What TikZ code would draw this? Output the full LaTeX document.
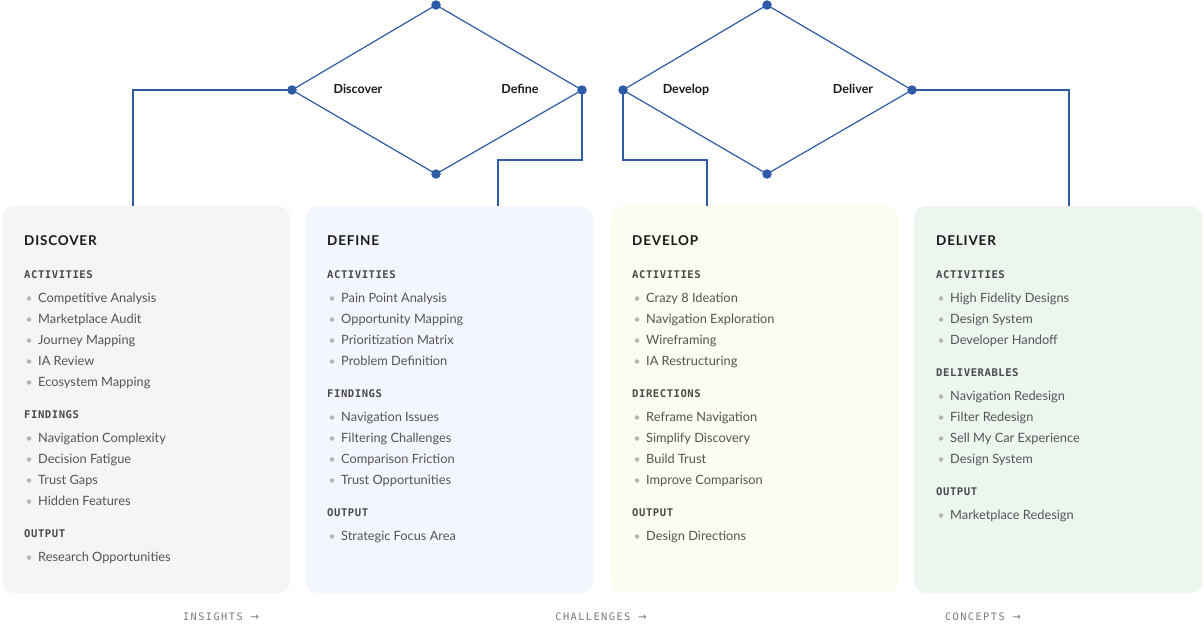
\documentclass[tikz,border=0pt]{standalone}
\usepackage{fontspec}
\setmainfont{Lato}
\newfontfamily\hdrf[LetterSpace=5]{DejaVu Sans Mono}
\newfontfamily\botf[LetterSpace=14]{DejaVu Sans Mono}
\newfontfamily\arrf{DejaVu Sans}
\newfontfamily\titf[LetterSpace=6]{Lato}
\definecolor{linkc}{HTML}{2E5BA6}
\definecolor{cardA}{HTML}{F5F5F5}
\definecolor{cardB}{HTML}{F3F7FD}
\definecolor{cardC}{HTML}{FCFCF1}
\definecolor{cardD}{HTML}{ECF6EE}
\definecolor{itemc}{HTML}{555555}
\definecolor{hdrc}{HTML}{4A4A4A}
\definecolor{titc}{HTML}{1A1A1A}
\definecolor{botc}{HTML}{7A7A7A}
\definecolor{bulc}{HTML}{B5B5B5}
\tikzset{
  card/.style={rounded corners=12pt, draw=none, inner sep=0, anchor=north west, minimum width=288pt, minimum height=387pt},
  link/.style={draw=linkc, line width=1.2pt},
  dot/.style={circle, fill=linkc, inner sep=0, minimum size=9.5pt},
  itm/.style={anchor=base west, inner sep=0, text=itemc, font=\fontsize{12.8}{14}\selectfont},
  hdr/.style={anchor=base west, inner sep=0, text=hdrc, font=\hdrf\bfseries\fontsize{10.6}{12}\selectfont},
  tit/.style={anchor=base west, inner sep=0, text=titc, font=\titf\bfseries\fontsize{13.5}{15}\selectfont},
  dlab/.style={anchor=base, inner sep=0, text=titc, font=\bfseries\fontsize{12.5}{14}\selectfont},
  bot/.style={anchor=base, inner sep=0, text=botc, font=\botf\fontsize{10.3}{12}\selectfont},
  bul/.style={circle, fill=bulc, inner sep=0, minimum size=4.5pt},
}
\newcommand\sect[5]{%
  \node[hdr] (#1) at (#2+22,#3+4) {#4};
  \foreach \t [count=\i] in {#5} {
    \node[bul] (#1-b\i) at (#2+27,#3+3.5+21*\i) {};
    \node[itm] (#1-\i) at (#2+36,#3+3+21*\i+4.5) {\t};
  }%
}
\begin{document}
\begin{tikzpicture}[x=1pt,y=-1pt]
\useasboundingbox (0,0) rectangle (1204,627);
% cards
\node[card, fill=cardA] (card1) at (2,206) {};
\node[card, fill=cardB] (card2) at (305,206) {};
\node[card, fill=cardC] (card3) at (610,206) {};
\node[card, fill=cardD] (card4) at (914,206) {};
% diamond coordinates
\coordinate (p1l) at (292,90);
\coordinate (p1t) at (436,5);
\coordinate (p1r) at (582,90);
\coordinate (p1b) at (436,174);
\coordinate (p2l) at (623,90);
\coordinate (p2t) at (767,5);
\coordinate (p2r) at (912,90);
\coordinate (p2b) at (767,174);
\coordinate (c1top) at (133,206);
\coordinate (c2mid) at (498,160);
\coordinate (c2top) at (498,206);
\coordinate (c3mid) at (707,160);
\coordinate (c3top) at (707,206);
\coordinate (c4top) at (1069,206);
\draw[link, line join=round] (p1l) -- (p1t) -- (p1r) -- (p1b) -- cycle;
\draw[link, line join=round] (p2l) -- (p2t) -- (p2r) -- (p2b) -- cycle;
% connectors
\draw[link] (p1l) -| (c1top);
\draw[link] (p1r) |- (c2mid) -- (c2top);
\draw[link] (p2l) |- (c3mid) -- (c3top);
\draw[link] (p2r) -| (c4top);
% dots
\foreach \p in {p1l,p1t,p1r,p1b,p2l,p2t,p2r,p2b} { \node[dot] (\p-dot) at (\p) {}; }
% diamond labels
\node[dlab] (lDiscover) at (358,93.5) {Discover};
\node[dlab] (lDefine) at (520,93.5) {Define};
\node[dlab] (lDevelop) at (686,93.5) {Develop};
\node[dlab] (lDeliver) at (853,93.5) {Deliver};
% card 1
\node[tit] (t1) at (24,245) {DISCOVER};
\sect{a1}{2}{274}{ACTIVITIES}{Competitive Analysis,Marketplace Audit,Journey Mapping,IA Review,Ecosystem Mapping}
\sect{f1}{2}{414}{FINDINGS}{Navigation Complexity,Decision Fatigue,Trust Gaps,Hidden Features}
\sect{o1}{2}{533}{OUTPUT}{Research Opportunities}
% card 2
\node[tit] (t2) at (327,245) {DEFINE};
\sect{a2}{305}{274}{ACTIVITIES}{Pain Point Analysis,Opportunity Mapping,Prioritization Matrix,Problem Definition}
\sect{f2}{305}{393}{FINDINGS}{Navigation Issues,Filtering Challenges,Comparison Friction,Trust Opportunities}
\sect{o2}{305}{512}{OUTPUT}{Strategic Focus Area}
% card 3
\node[tit] (t3) at (632,245) {DEVELOP};
\sect{a3}{610}{274}{ACTIVITIES}{Crazy 8 Ideation,Navigation Exploration,Wireframing,IA Restructuring}
\sect{f3}{610}{393}{DIRECTIONS}{Reframe Navigation,Simplify Discovery,Build Trust,Improve Comparison}
\sect{o3}{610}{512}{OUTPUT}{Design Directions}
% card 4
\node[tit] (t4) at (936,245) {DELIVER};
\sect{a4}{914}{274}{ACTIVITIES}{High Fidelity Designs,Design System,Developer Handoff}
\sect{f4}{914}{372}{DELIVERABLES}{Navigation Redesign,Filter Redesign,Sell My Car Experience,Design System}
\sect{o4}{914}{491}{OUTPUT}{Marketplace Redesign}
% bottom labels
\node[bot] (b1) at (221,620) {INSIGHTS {\arrf →}};
\node[bot] (b2) at (601,620) {CHALLENGES {\arrf →}};
\node[bot] (b3) at (983,620) {CONCEPTS {\arrf →}};
\end{tikzpicture}
\end{document}
